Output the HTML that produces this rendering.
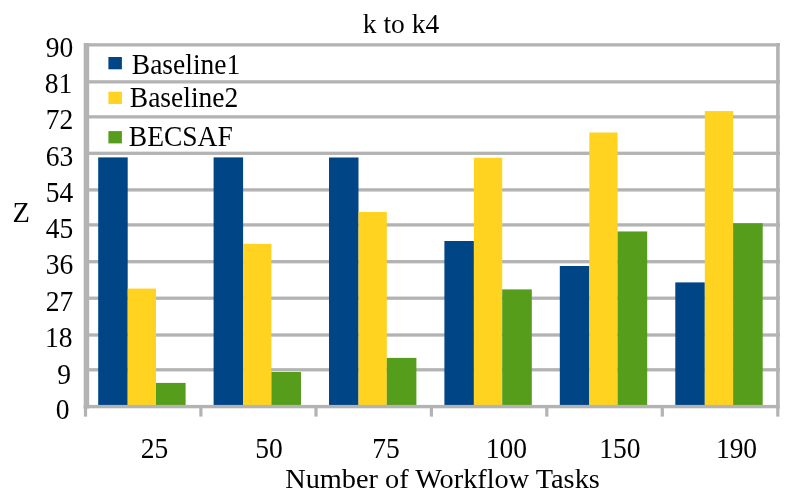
<!DOCTYPE html>
<html><head><meta charset="utf-8"><style>
html,body{margin:0;padding:0;background:#fff;}
svg{display:block;will-change:transform;}
text{font-family:"Liberation Serif",serif;fill:#000;}
</style></head><body>
<svg width="786" height="503" viewBox="0 0 786 503">
<rect width="786" height="503" fill="#fff"/>
<rect x="84" y="43.20" width="696" height="3.3" fill="#b3b3b3"/>
<rect x="84" y="80.20" width="696" height="3.3" fill="#b3b3b3"/>
<rect x="84" y="115.20" width="696" height="3.3" fill="#b3b3b3"/>
<rect x="84" y="151.65" width="696" height="3.3" fill="#b3b3b3"/>
<rect x="84" y="188.25" width="696" height="3.3" fill="#b3b3b3"/>
<rect x="84" y="223.25" width="696" height="3.3" fill="#b3b3b3"/>
<rect x="84" y="260.05" width="696" height="3.3" fill="#b3b3b3"/>
<rect x="84" y="296.55" width="696" height="3.3" fill="#b3b3b3"/>
<rect x="84" y="333.35" width="696" height="3.3" fill="#b3b3b3"/>
<rect x="84" y="368.15" width="696" height="3.3" fill="#b3b3b3"/>
<rect x="83.7" y="43" width="5.5" height="365.5" fill="#b3b3b3"/>
<rect x="776.1" y="43" width="3.6" height="365.5" fill="#b3b3b3"/>
<rect x="98.20" y="157.40" width="29.5" height="248.60" fill="#004586"/>
<rect x="127.70" y="288.60" width="28.3" height="117.40" fill="#ffd320"/>
<rect x="156.00" y="382.90" width="29.6" height="23.10" fill="#579d1c"/>
<rect x="213.60" y="157.40" width="29.5" height="248.60" fill="#004586"/>
<rect x="243.10" y="243.80" width="28.3" height="162.20" fill="#ffd320"/>
<rect x="271.40" y="372.00" width="29.6" height="34.00" fill="#579d1c"/>
<rect x="329.00" y="157.50" width="29.5" height="248.50" fill="#004586"/>
<rect x="358.50" y="212.00" width="28.3" height="194.00" fill="#ffd320"/>
<rect x="386.80" y="357.90" width="29.6" height="48.10" fill="#579d1c"/>
<rect x="444.40" y="241.00" width="29.5" height="165.00" fill="#004586"/>
<rect x="473.90" y="157.80" width="28.3" height="248.20" fill="#ffd320"/>
<rect x="502.20" y="289.40" width="29.6" height="116.60" fill="#579d1c"/>
<rect x="559.80" y="266.00" width="29.5" height="140.00" fill="#004586"/>
<rect x="589.30" y="132.50" width="28.3" height="273.50" fill="#ffd320"/>
<rect x="617.60" y="231.45" width="29.6" height="174.55" fill="#579d1c"/>
<rect x="675.30" y="282.40" width="29.5" height="123.60" fill="#004586"/>
<rect x="704.80" y="111.07" width="28.3" height="294.93" fill="#ffd320"/>
<rect x="733.10" y="223.20" width="29.6" height="182.80" fill="#579d1c"/>
<rect x="83.7" y="404.90" width="696" height="3.4" fill="#b3b3b3"/>
<rect x="83.90" y="406.60" width="3.2" height="10.00" fill="#b3b3b3"/>
<rect x="199.30" y="406.60" width="3.2" height="10.00" fill="#b3b3b3"/>
<rect x="314.40" y="406.60" width="3.2" height="10.00" fill="#b3b3b3"/>
<rect x="429.80" y="406.60" width="3.2" height="10.00" fill="#b3b3b3"/>
<rect x="545.20" y="406.60" width="3.2" height="10.00" fill="#b3b3b3"/>
<rect x="660.70" y="406.60" width="3.2" height="10.00" fill="#b3b3b3"/>
<rect x="776.20" y="406.60" width="3.2" height="10.00" fill="#b3b3b3"/>
<rect x="108.4" y="57" width="13.5" height="12.3" fill="#004586"/>
<rect x="108.4" y="91.7" width="13.5" height="12.3" fill="#ffd320"/>
<rect x="108.4" y="131.1" width="13.5" height="12.3" fill="#579d1c"/>
<text transform="translate(401,33.3) scale(1.0,1.02)" font-size="27.5" text-anchor="middle">k to k4</text>
<text transform="translate(73.2,57.15) scale(1.0,1.05)" font-size="27.5" text-anchor="end">90</text>
<text transform="translate(72.3,93.0) scale(1.0,1.05)" font-size="27.5" text-anchor="end">81</text>
<text transform="translate(73.2,128.8) scale(1.0,1.05)" font-size="27.5" text-anchor="end">72</text>
<text transform="translate(73.2,165.6) scale(1.0,1.05)" font-size="27.5" text-anchor="end">63</text>
<text transform="translate(73.2,202.2) scale(1.0,1.05)" font-size="27.5" text-anchor="end">54</text>
<text transform="translate(73.2,237.9) scale(1.0,1.05)" font-size="27.5" text-anchor="end">45</text>
<text transform="translate(73.2,274.0) scale(1.0,1.05)" font-size="27.5" text-anchor="end">36</text>
<text transform="translate(73.2,310.5) scale(1.0,1.05)" font-size="27.5" text-anchor="end">27</text>
<text transform="translate(72.6,347.3) scale(1.0,1.05)" font-size="27.5" text-anchor="end">18</text>
<text transform="translate(70.9,383.6) scale(1.0,1.05)" font-size="27.5" text-anchor="end">9</text>
<text transform="translate(69.4,418.9) scale(1.0,1.05)" font-size="27.5" text-anchor="end">0</text>
<text transform="translate(12.5,221.7) scale(1.0,1.05)" font-size="28.5" text-anchor="start">Z</text>
<text transform="translate(131.8,74.3) scale(1.0,1.05)" font-size="27.5" text-anchor="start">Baseline1</text>
<text transform="translate(129.8,106.7) scale(1.0,1.05)" font-size="27.5" text-anchor="start">Baseline2</text>
<text transform="translate(128.8,145.6) scale(1.0,1.05)" font-size="27.5" text-anchor="start">BECSAF</text>
<text transform="translate(154.6,458) scale(1.0,1.05)" font-size="27.5" text-anchor="middle">25</text>
<text transform="translate(269,458) scale(1.0,1.05)" font-size="27.5" text-anchor="middle">50</text>
<text transform="translate(386.1,458) scale(1.0,1.05)" font-size="27.5" text-anchor="middle">75</text>
<text transform="translate(506.3,458) scale(1.0,1.05)" font-size="27.5" text-anchor="middle">100</text>
<text transform="translate(619.8,458) scale(1.0,1.05)" font-size="27.5" text-anchor="middle">150</text>
<text transform="translate(736.5,458) scale(1.0,1.05)" font-size="27.5" text-anchor="middle">190</text>
<text transform="translate(442.5,488.3) scale(1.0,1.0)" font-size="28.3" text-anchor="middle">Number of Workflow Tasks</text>
</svg>
</body></html>
